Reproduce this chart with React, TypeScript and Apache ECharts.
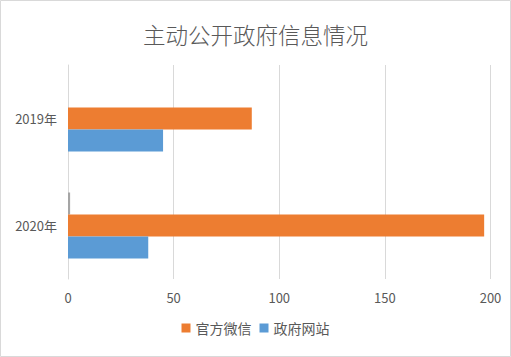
import React, { useEffect, useRef } from "react";
import * as echarts from "echarts";

const categories = ["2019年", "2020年"];
const seriesNames = ["官方微信", "政府网站"];
const otherValues = [0, 1];
const wechatValues = [87, 197];
const websiteValues = [45, 38];
const xTicks = { min: 0, max: 200, interval: 50 };

const FONT = "'Noto Sans CJK SC', 'Noto Sans', sans-serif";
const TEXT = "#595959";

export default function App() {
  const ref = useRef<HTMLDivElement>(null);
  useEffect(() => {
    if (!ref.current) return;
    const chart = echarts.init(ref.current, undefined, { renderer: "svg" });
    chart.setOption({
      animation: false,
      backgroundColor: "#ffffff",
      textStyle: { fontFamily: FONT },
      title: {
        text: "主动公开政府信息情况",
        left: "center",
        top: 18,
        textStyle: { fontFamily: FONT, fontSize: 22.5, fontWeight: 300, color: TEXT },
      },
      graphic: [
        {
          type: "rect",
          shape: { x: 0.5, y: 0.5, width: 510, height: 356 },
          style: { fill: "none", stroke: "#D9D9D9", lineWidth: 1 },
          silent: true,
        },
      ],
      legend: {
        data: seriesNames,
        bottom: 17,
        left: "center",
        itemWidth: 9,
        itemHeight: 9,
        itemGap: 8,
        icon: "rect",
        textStyle: { fontFamily: FONT, fontSize: 14, color: TEXT },
      },
      grid: { left: 68, right: 20.5, top: 65, bottom: 78, containLabel: false },
      xAxis: {
        type: "value",
        min: xTicks.min,
        max: xTicks.max,
        interval: xTicks.interval,
        axisLine: { show: false },
        axisTick: { show: false },
        splitLine: { lineStyle: { color: "#D9D9D9", width: 1 } },
        axisLabel: { fontFamily: FONT, fontSize: 13, color: TEXT, margin: 12 },
      },
      yAxis: {
        type: "category",
        data: categories,
        inverse: true,
        axisLine: { show: true, lineStyle: { color: "#D9D9D9" } },
        axisTick: { show: false },
        axisLabel: { fontFamily: FONT, fontSize: 13, color: TEXT, margin: 11 },
      },
      series: [
        {
          name: "其他",
          type: "bar",
          data: otherValues,
          barWidth: 22,
          barGap: "0%",
          itemStyle: { color: "#A5A5A5" },
        },
        {
          name: seriesNames[0],
          type: "bar",
          data: wechatValues,
          barWidth: 22,
          barGap: "0%",
          itemStyle: { color: "#ED7D31" },
        },
        {
          name: seriesNames[1],
          type: "bar",
          data: websiteValues,
          barWidth: 22,
          barGap: "0%",
          itemStyle: { color: "#5B9BD5" },
        },
      ],
    });
    return () => chart.dispose();
  }, []);
  return (
    <div
      ref={ref}
      style={{ position: "fixed", left: 0, top: 0, width: 511, height: 357 }}
    />
  );
}
